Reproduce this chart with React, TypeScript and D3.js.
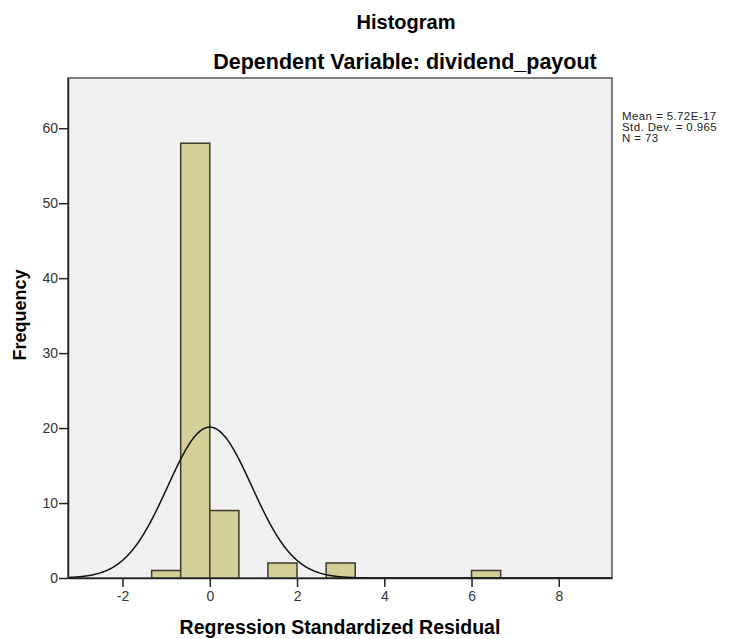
import { useRef, useEffect } from 'react';
import * as d3 from 'd3';

// histogram bins (lower edge) and their counts
const binLower = [-1.333, -0.667, 0, 0.667, 1.333, 2, 2.667, 3.333, 4, 4.667, 5.333, 6];
const binCounts = [1, 58, 9, 0, 2, 0, 2, 0, 0, 0, 0, 1];
const binWidth = 0.667;

const xTicks = [-2, 0, 2, 4, 6, 8];
const yTicks = [0, 10, 20, 30, 40, 50, 60];

const stats = { mean: 5.72e-17, sd: 0.965, n: 73 };
const legendLines = ['Mean = 5.72E-17', 'Std. Dev. = 0.965', 'N = 73'];

function App() {
  const svgRef = useRef<SVGSVGElement | null>(null);
  const width = 733;
  const height = 639;

  useEffect(() => {
    const margin = { top: 78, right: 121, bottom: 61, left: 68 };
    const font = 'Arial, "Liberation Sans", sans-serif';
    const svg = d3.select(svgRef.current);
    svg.selectAll('*').remove();

    svg.append('rect').attr('width', width).attr('height', height).attr('fill', 'white');

    const x = d3
      .scaleLinear()
      .domain([-3.25, 9.22])
      .range([margin.left, width - margin.right]);

    const y = d3
      .scaleLinear()
      .domain([0, 66.7])
      .range([height - margin.bottom, margin.top]);

    // plot background
    svg
      .append('rect')
      .attr('x', margin.left)
      .attr('y', margin.top)
      .attr('width', width - margin.left - margin.right)
      .attr('height', height - margin.top - margin.bottom)
      .attr('fill', '#f0f0f0')
      .attr('stroke', '#555')
      .attr('stroke-width', 1.5);

    // bars
    const bins = binLower.map((lo, i) => ({ lo, count: binCounts[i] })).filter((d) => d.count > 0);
    svg
      .append('g')
      .selectAll('rect')
      .data(bins)
      .join('rect')
      .attr('x', (d) => x(d.lo))
      .attr('y', (d) => y(d.count))
      .attr('width', (d) => x(d.lo + binWidth) - x(d.lo))
      .attr('height', (d) => y(0) - y(d.count))
      .attr('fill', '#d4cf98')
      .attr('stroke', '#3d3a28')
      .attr('stroke-width', 1.5);

    // fitted normal curve
    const scaleFactor = stats.n * binWidth;
    const pts = d3.range(-3.25, 9.22, 0.02).map((v) => {
      const z = (v - stats.mean) / stats.sd;
      return [v, (scaleFactor * Math.exp(-0.5 * z * z)) / (stats.sd * Math.sqrt(2 * Math.PI))];
    });
    svg
      .append('path')
      .datum(pts)
      .attr('fill', 'none')
      .attr('stroke', '#111')
      .attr('stroke-width', 1.5)
      .attr('d', d3.line<number[]>().x((d) => x(d[0])).y((d) => y(d[1])));

    // axes
    const xAxis = svg
      .append('g')
      .attr('transform', `translate(0,${height - margin.bottom})`)
      .call(
        d3
          .axisBottom(x)
          .tickValues(xTicks)
          .tickFormat((d) => String(d))
          .tickSize(9)
          .tickSizeOuter(0)
          .tickPadding(4)
      );
    const yAxis = svg
      .append('g')
      .attr('transform', `translate(${margin.left},0)`)
      .call(d3.axisLeft(y).tickValues(yTicks).tickSize(9).tickSizeOuter(0).tickPadding(1));

    [xAxis, yAxis].forEach((ax) => {
      ax.select('.domain').attr('stroke', '#222').attr('stroke-width', 1.5);
      ax.selectAll('.tick line').attr('stroke', '#222').attr('stroke-width', 1.5);
      ax.selectAll('text')
        .attr('fill', '#333')
        .style('font-family', font)
        .style('font-size', '14px');
    });

    // titles
    svg
      .append('text')
      .attr('x', 406)
      .attr('y', 29)
      .attr('text-anchor', 'middle')
      .style('font-family', font)
      .style('font-size', '20px')
      .style('font-weight', 'bold')
      .text('Histogram');

    svg
      .append('text')
      .attr('x', 405)
      .attr('y', 69)
      .attr('text-anchor', 'middle')
      .style('font-family', font)
      .style('font-size', '21.5px')
      .style('font-weight', 'bold')
      .text('Dependent Variable: dividend_payout');

    svg
      .append('text')
      .attr('x', 340)
      .attr('y', 634)
      .attr('text-anchor', 'middle')
      .style('font-family', font)
      .style('font-size', '19.5px')
      .style('font-weight', 'bold')
      .text('Regression Standardized Residual');

    svg
      .append('text')
      .attr('transform', 'rotate(-90)')
      .attr('x', -315)
      .attr('y', 26)
      .attr('text-anchor', 'middle')
      .style('font-family', font)
      .style('font-size', '18px')
      .style('font-weight', 'bold')
      .text('Frequency');

    // stats legend
    svg
      .append('g')
      .selectAll('text')
      .data(legendLines)
      .join('text')
      .attr('x', 622)
      .attr('y', (_, i) => 119.5 + i * 11.2)
      .attr('fill', '#222')
      .style('font-family', font)
      .style('font-size', '11.5px')
      .style('letter-spacing', '0.4px')
      .text((d) => d);
  }, []);

  return (
    <svg
      ref={svgRef}
      width={width}
      height={height}
      style={{ position: 'absolute', left: 0, top: 0 }}
    ></svg>
  );
}

export default App;
